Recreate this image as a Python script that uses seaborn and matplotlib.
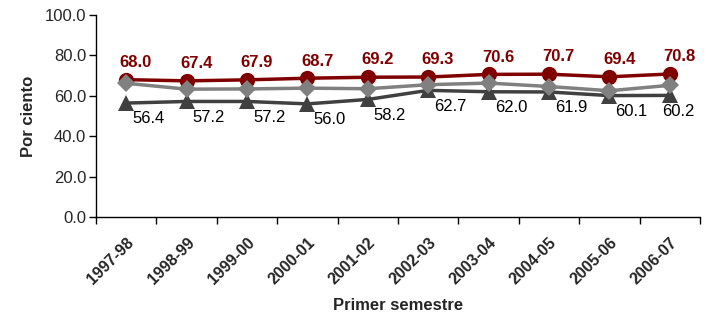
import numpy as np
import pandas as pd
import matplotlib
matplotlib.use("Agg")
import matplotlib.pyplot as plt
import seaborn as sns

# data
periods = ["1997-98", "1998-99", "1999-00", "2000-01", "2001-02",
           "2002-03", "2003-04", "2004-05", "2005-06", "2006-07"]
serie_roja = [68.0, 67.4, 67.9, 68.7, 69.2, 69.3, 70.6, 70.7, 69.4, 70.8]
serie_gris = [66.2, 63.3, 63.4, 63.8, 63.5, 65.5, 66.3, 64.6, 62.5, 65.2]
serie_oscura = [56.4, 57.2, 57.2, 56.0, 58.2, 62.7, 62.0, 61.9, 60.1, 60.2]

sns.set_style("ticks")
plt.rcParams["font.family"] = ["Liberation Sans", "DejaVu Sans"]

fig = plt.figure(figsize=(7.06, 3.16), dpi=100)
ax = fig.add_axes([0.136, 0.3133, 0.8555, 0.6392])

df = pd.DataFrame({"periodo": periods, "oscura": serie_oscura,
                   "roja": serie_roja, "gris": serie_gris})

sns.lineplot(data=df, x="periodo", y="oscura", color="#404040", marker="^",
             markersize=11, markeredgewidth=0, linewidth=2.5, ax=ax)
sns.lineplot(data=df, x="periodo", y="roja", color="#800000", marker="o",
             markersize=11, markeredgewidth=0, linewidth=2.5, ax=ax)
sns.lineplot(data=df, x="periodo", y="gris", color="#808080", marker="D",
             markersize=9, markeredgewidth=0, linewidth=2.5, ax=ax)

# value labels
for i, v in enumerate(serie_roja):
    ax.annotate(f"{v:.1f}", (i, v), xytext=(7, 7), textcoords="offset points",
                ha="center", va="bottom", fontsize=12, fontweight="bold",
                color="#800000")
for i, v in enumerate(serie_oscura):
    dx = 16 if i < len(serie_oscura) - 1 else 6
    ax.annotate(f"{v:.1f}", (i, v), xytext=(dx, -6), textcoords="offset points",
                ha="center", va="top", fontsize=12, color="black")

ax.set_ylim(0, 100)
ax.set_xlim(-0.5, len(periods) - 0.5)
ax.set_yticks(np.arange(0, 101, 20))
ax.set_yticklabels([f"{t:.1f}" for t in np.arange(0, 101, 20)], fontsize=12)
ax.set_xticks(range(len(periods)))
ax.set_xticklabels(periods, rotation=45, ha="right", va="top",
                   rotation_mode="anchor", fontsize=11.5, fontweight="bold")
ax.set_xticks(np.arange(-0.5, len(periods), 1), minor=True)
ax.tick_params(axis="x", which="major", length=0, pad=13)
ax.tick_params(axis="x", which="minor", length=5, width=1, color="black")
ax.tick_params(axis="y", length=5, width=1, color="black", pad=2)

ax.set_xlabel("Primer semestre", fontsize=12, fontweight="bold", labelpad=8)
ax.set_ylabel("Por ciento", fontsize=12, fontweight="bold", labelpad=6)

sns.despine(ax=ax)
for s in ["left", "bottom"]:
    ax.spines[s].set_color("black")
    ax.spines[s].set_linewidth(1)
ax.grid(False)

fig.savefig("out.png", dpi=100)
